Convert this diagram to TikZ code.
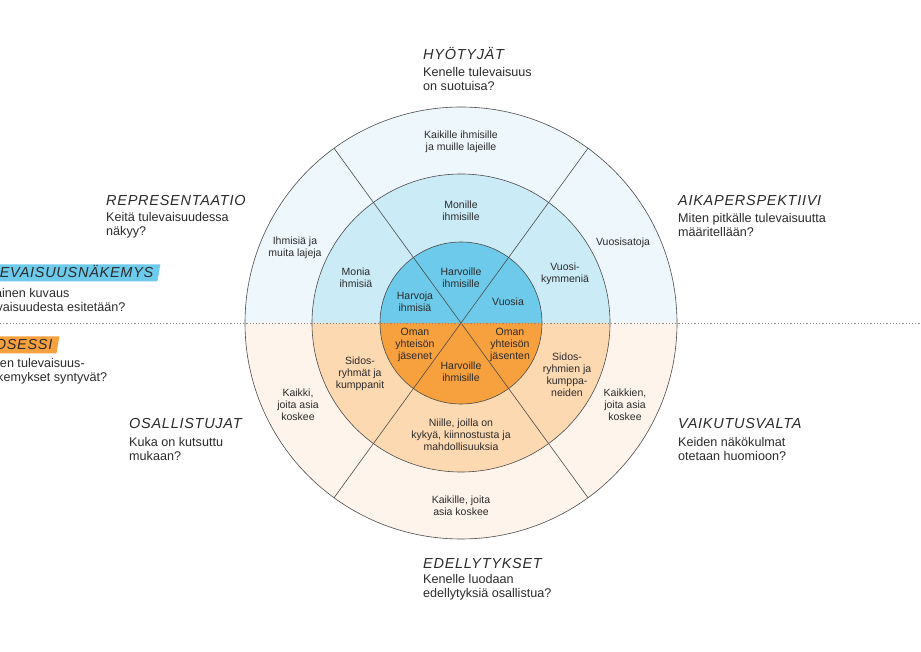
\documentclass[tikz,border=0pt]{standalone}
\usepackage{fontspec}
\setmainfont{Liberation Sans}
\newfontfamily\hdrfont[LetterSpace=5]{Liberation Sans}
\usetikzlibrary{shapes.geometric, calc}

\definecolor{upout}{HTML}{EEF7FC}
\definecolor{upmid}{HTML}{CBEBF7}
\definecolor{upin}{HTML}{6DCAEA}
\definecolor{loout}{HTML}{FEF4EC}
\definecolor{lomid}{HTML}{FDD9B2}
\definecolor{loin}{HTML}{F7A03E}
\definecolor{ink}{HTML}{2B2B2B}

\tikzset{
    ringline/.style={draw=ink!85, line width=0.6pt},
    sect/.style={align=center, inner sep=0pt, text=ink, font=\fontsize{10.5}{12}\selectfont},
    hdr/.style={anchor=west, inner sep=0pt, text height=10pt, text depth=0pt, text=ink,
        font=\hdrfont\itshape\fontsize{14.5}{16}\selectfont},
    qst/.style={anchor=north west, align=left, inner sep=0pt, text=ink, font=\fontsize{12.6}{13.5}\selectfont},
    tag/.style={hdr, trapezium, trapezium left angle=90, trapezium right angle=100,
        inner xsep=4pt, inner ysep=3.5pt}
}

\begin{document}
\begin{tikzpicture}[x=1pt, y=1pt]
    \clip (0, 0) rectangle (921, 651);
    \coordinate (c) at (461, 328);

    % rings, upper half blue and lower half orange
    \foreach \r/\up/\lo in {216/upout/loout, 149/upmid/lomid, 81/upin/loin} {
        \fill[\up] ($(c) + (\r, 0)$) arc[start angle=0, end angle=180, radius=\r] -- cycle;
        \fill[\lo] ($(c) + (\r, 0)$) arc[start angle=0, end angle=-180, radius=\r] -- cycle;
    }
    \foreach \r in {216, 149, 81} {
        \draw[ringline] (c) circle[radius=\r];
    }
    \foreach \a in {54, 126, 234, 306} {
        \draw[ringline] (c) -- ++(\a:216);
    }
    \draw[ink!55, line width=0.7pt, dash pattern=on 1.2pt off 2pt] (0, 328) -- (921, 328);

    % sector texts
    \node[sect] (topout) at (461, 509) {Kaikille ihmisille\\ja muille lajeille};
    \node[sect] (topmid) at (461, 440) {Monille\\ihmisille};
    \node[sect] (topin) at (461, 373) {Harvoille\\ihmisille};
    \node[sect] (ulout) at (295, 403) {Ihmisiä ja\\muita lajeja};
    \node[sect] (ulmid) at (356, 373) {Monia\\ihmisiä};
    \node[sect] (ulin) at (415, 349) {Harvoja\\ihmisiä};
    \node[sect] (urout) at (623, 408) {Vuosisatoja};
    \node[sect] (urmid) at (565, 377) {Vuosi-\\kymmeniä};
    \node[sect] (urin) at (508, 349) {Vuosia};
    \node[sect] (llin) at (415, 306) {Oman\\yhteisön\\jäsenet};
    \node[sect] (llmid) at (360, 277) {Sidos-\\ryhmät ja\\kumppanit};
    \node[sect] (llout) at (298, 246) {Kaikki,\\joita asia\\koskee};
    \node[sect] (lrin) at (510, 306) {Oman\\yhteisön\\jäsenten};
    \node[sect] (lrmid) at (567, 276) {Sidos-\\ryhmien ja\\kumppa-\\neiden};
    \node[sect] (lrout) at (625, 246) {Kaikkien,\\joita asia\\koskee};
    \node[sect] (botin) at (461, 279) {Harvoille\\ihmisille};
    \node[sect] (botmid) at (461, 216) {Niille, joilla on\\kykyä, kiinnostusta ja\\mahdollisuuksia};
    \node[sect] (botout) at (461, 145) {Kaikille, joita\\asia koskee};

    % headings and questions
    \node[hdr] (hyo) at (423, 596) {HYÖTYJÄT};
    \node[qst] (hyoq) at (423, 583.5) {Kenelle tulevaisuus\\on suotuisa?};
    \node[hdr] (rep) at (106, 450) {REPRESENTAATIO};
    \node[qst] (repq) at (106, 438.5) {Keitä tulevaisuudessa\\näkyy?};
    \node[hdr] (aik) at (678, 450) {AIKAPERSPEKTIIVI};
    \node[qst] (aikq) at (678, 437.5) {Miten pitkälle tulevaisuutta\\määritellään?};
    \node[hdr] (osa) at (129, 227) {OSALLISTUJAT};
    \node[qst] (osaq) at (129, 213.5) {Kuka on kutsuttu\\mukaan?};
    \node[hdr] (vai) at (678, 227) {VAIKUTUSVALTA};
    \node[qst] (vaiq) at (678, 213.5) {Keiden näkökulmat\\otetaan huomioon?};
    \node[hdr] (ede) at (423, 88) {EDELLYTYKSET};
    \node[qst] (edeq) at (423, 76.5) {Kenelle luodaan\\edellytyksiä osallistua?};

    \node[tag, fill=upin] (tul) at (-34, 378) {TULEVAISUUSNÄKEMYS};
    \node[qst] (tulq) at (-24, 362.5) {Millainen kuvaus\\tulevaisuudesta esitetään?};
    \node[tag, fill=loin] (pro) at (-31, 306) {PROSESSI};
    \node[qst] (proq) at (-17, 292.5) {Miten tulevaisuus-\\näkemykset syntyvät?};
\end{tikzpicture}
\end{document}
